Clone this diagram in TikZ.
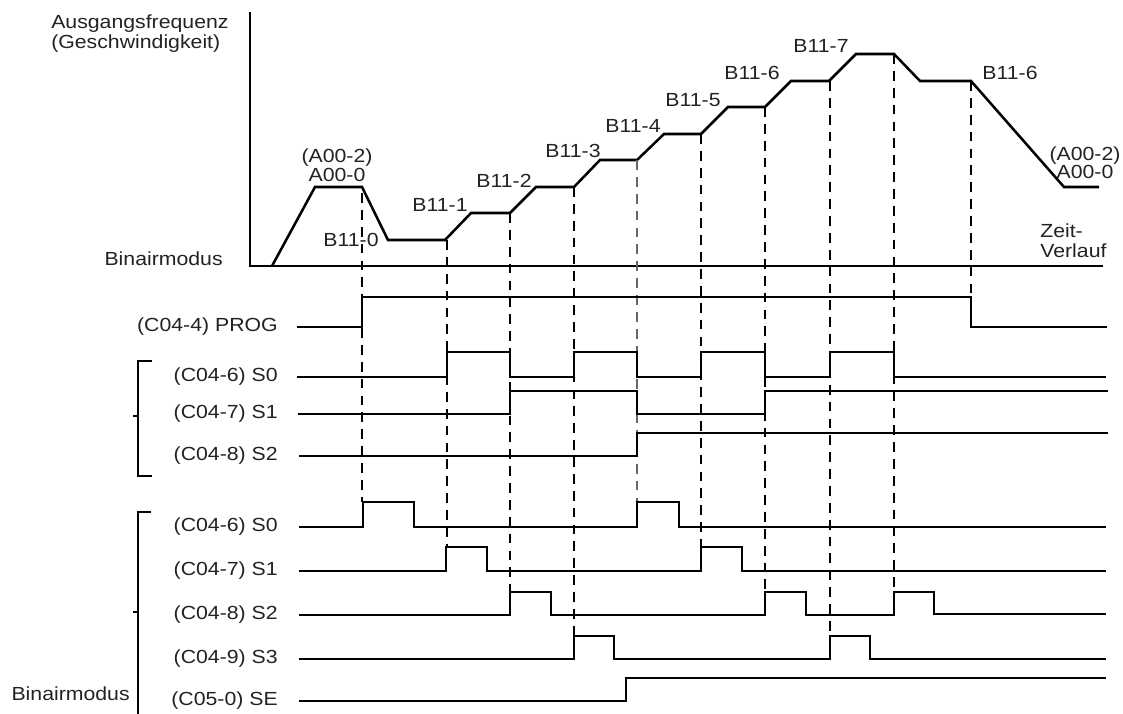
\documentclass[tikz,border=0pt]{standalone}
\usepackage{fontspec}
\setmainfont{Liberation Sans}[FakeStretch=1.12]
\definecolor{txt}{RGB}{34,34,34}
\newcommand\tightlines{\lineskiplimit=-20pt\relax}
\tikzset{
  lbl/.style={font=\fontsize{13.5}{14}\selectfont,text=txt,inner sep=0pt},
  siglab/.style={lbl,anchor=east},
  speed/.style={line width=1.8pt},
  sig/.style={line width=0.9pt},
  guide/.style={line width=0.9pt,dash pattern=on 7pt off 5pt},
  axisline/.style={line width=0.8pt},
}

\begin{document}
\begin{tikzpicture}[x=0.025cm,y=-0.025cm]
\useasboundingbox (0,0) rectangle (1123,713);
% axes and speed profile
\draw[axisline] (250,12) -- (250,266) -- (1103,266);
\draw[speed] (272,266)--(315,187)--(362,187)--(388,240)--(445,240)--(471,213)--(510,213)--(536,187)--(574,187)--(600,160)--(637,160)--(664,134)--(701,134)--(728,107)--(765,107)--(791,81)--(829,81)--(856,54)--(894,54)--(920,81)--(971,81)--(1064,187)--(1099,187);
\node[lbl,anchor=base west,align=left,font={\fontsize{13.5}{14.2}\selectfont\tightlines}] (ausgang) at (51,48) {Ausgangsfrequenz\\(Geschwindigkeit)};
\node[lbl,anchor=base east] (binair1) at (223,265) {Binairmodus};
\node[lbl,anchor=base,align=center,font={\fontsize{13.5}{13.2}\selectfont\tightlines}] (acc0) at (337,181) {(A00-2)\\A00-0};
\node[lbl,anchor=base,align=center,font={\fontsize{13.5}{12.4}\selectfont\tightlines}] (acc1) at (1085,178) {(A00-2)\\A00-0};
\node[lbl,anchor=base] (b0) at (351,246) {B11-0};
\node[lbl,anchor=base] (b1) at (440,211) {B11-1};
\node[lbl,anchor=base] (b2) at (504,187) {B11-2};
\node[lbl,anchor=base] (b3) at (573,157) {B11-3};
\node[lbl,anchor=base] (b4) at (633,132) {B11-4};
\node[lbl,anchor=base] (b5) at (693,106) {B11-5};
\node[lbl,anchor=base] (b6) at (752,79) {B11-6};
\node[lbl,anchor=base] (b7) at (821,52) {B11-7};
\node[lbl,anchor=base] (b6b) at (1010,79) {B11-6};
\node[lbl,anchor=base west,align=left,font={\fontsize{13.5}{14.2}\selectfont\tightlines}] (zeit) at (1040,257) {Zeit-\\Verlauf};
% dashed guides
\draw[guide] (362,193) -- (362,502);
\draw[guide] (447,240) -- (447,547);
\draw[guide] (510,213) -- (510,592);
\draw[guide] (574,187) -- (574,636);
\draw[guide,black!60] (637,160) -- (637,502);
\draw[guide] (701,134) -- (701,547);
\draw[guide] (765,107) -- (765,592);
\draw[guide] (830,81) -- (830,636);
\draw[guide] (894,54) -- (894,592);
\draw[guide] (971,81) -- (971,297);
% program signals
\node[siglab] (prog) at (278,327) {(C04-4) PROG};
\draw[sig] (297,327) -- (362,327) -- (362,297) -- (971,297) -- (971,327) -- (1107,327);
\node[siglab] (us0) at (278,377) {(C04-6) S0};
\draw[sig] (297,377)--(447,377)--(447,352)--(510,352)--(510,377)--(574,377)--(574,352)--(637,352)--(637,377)--(701,377)--(701,352)--(765,352)--(765,377)--(830,377)--(830,352)--(894,352)--(894,377)--(1106,377);
\node[siglab] (us1) at (278,414) {(C04-7) S1};
\draw[sig] (298,414)--(510,414)--(510,391)--(637,391)--(637,414)--(765,414)--(765,391)--(1108,391);
\node[siglab] (us2) at (278,456) {(C04-8) S2};
\draw[sig] (299,456)--(637,456)--(637,433)--(1108,433);
\draw[sig] (152,361) -- (138,361) -- (138,476) -- (152,476);
\draw[sig] (133,416) -- (138,416);
% binary mode signals
\node[siglab] (ls0) at (278,527) {(C04-6) S0};
\draw[sig] (299,527)--(363,527)--(363,502)--(414,502)--(414,527)--(637,527)--(637,502)--(679,502)--(679,527)--(1106,527);
\node[siglab] (ls1) at (278,571) {(C04-7) S1};
\draw[sig] (299,571)--(446,571)--(446,547)--(487,547)--(487,571)--(701,571)--(701,547)--(742,547)--(742,571)--(1106,571);
\node[siglab] (ls2) at (278,615) {(C04-8) S2};
\draw[sig] (299,615)--(510,615)--(510,592)--(551,592)--(551,615)--(765,615)--(765,592)--(806,592)--(806,615)--(894,615)--(894,592)--(934,592)--(934,614)--(1106,614);
\node[siglab] (ls3) at (278,659) {(C04-9) S3};
\draw[sig] (299,659)--(574,659)--(574,636)--(614,636)--(614,659)--(830,659)--(830,636)--(870,636)--(870,659)--(1106,659);
\node[siglab] (lse) at (278,701) {(C05-0) SE};
\draw[sig] (299,701)--(626,701)--(626,678)--(1106,678);
\draw[sig] (151,512) -- (138,512) -- (138,716);
\draw[sig] (133,612) -- (138,612);
\node[lbl,anchor=east] (binair2) at (130,694) {Binairmodus};
\end{tikzpicture}
\end{document}
